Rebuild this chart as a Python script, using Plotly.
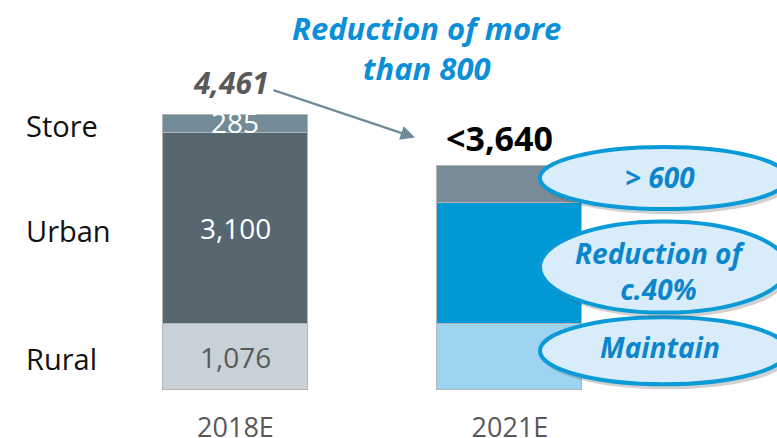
import plotly.graph_objects as go

# Headcount by channel, 2018 estimate vs 2021 target
years = ["2018E", "2021E"]
rural = [1076, 1076]
urban = [3100, 1964]
store = [285, 600]
total_labels = ["4,461", "<3,640"]
segment_names = ["Rural", "Urban", "Store"]
callouts = ["Maintain", "Reduction of<br>c.40%", "> 600"]
headline = "Reduction of more<br>than 800"

rural_colors = ["#c8d1d8", "#9dd4f2"]
urban_colors = ["#56676f", "#0099d6"]
store_colors = ["#748c97", "#778c97"]

FONT = "Open Sans"
BLUE_TEXT = "#0b86cc"
BAR_W = 0.528

fig = go.Figure()
for name, vals, cols in [("Rural", rural, rural_colors),
                         ("Urban", urban, urban_colors),
                         ("Store", store, store_colors)]:
    fig.add_trace(go.Bar(
        x=years, y=vals, name=name, width=BAR_W,
        marker=dict(color=cols, line=dict(color="#b4b4b4", width=1.5)),
        hoverinfo="skip",
    ))

totals = [r + u + s for r, u, s in zip(rural, urban, store)]
mids = [
    [r / 2 for r in rural],
    [r + u / 2 for r, u in zip(rural, urban)],
    [r + u + s / 2 for r, u, s in zip(rural, urban, store)],
]

annotations = []

# segment names on the left, aligned with the 2018 bar
for name, m in zip(segment_names, mids):
    annotations.append(dict(
        x=24 / 777, xref="paper", xanchor="left", y=m[0], yref="y", yshift=-2,
        text=name, showarrow=False,
        font=dict(family=FONT, size=29, color="#111111"),
    ))

# values inside the 2018 bar
inside = [(rural[0], "#595959", mids[0][0]),
          (urban[0], "white", mids[1][0]),
          (store[0], "white", mids[2][0] + 2 / 0.06165)]
for v, col, y in inside:
    annotations.append(dict(
        x=years[0], y=y, text=f"{v:,}", showarrow=False,
        font=dict(family=FONT, size=28, color=col),
    ))

# totals above the bars
annotations.append(dict(
    x=years[0], y=totals[0], yshift=32, xshift=-4, text=total_labels[0],
    showarrow=False,
    font=dict(family=FONT, size=30, color="#595959", weight="bold", style="italic"),
))
annotations.append(dict(
    x=years[1], y=totals[1], yshift=28, xshift=-10, text=total_labels[1],
    showarrow=False,
    font=dict(family=FONT, size=34, color="black", weight="bold"),
))

# arrow from the old total towards the new one
annotations.append(dict(
    x=years[1], y=totals[1], xshift=-95, yshift=28, text="",
    showarrow=True, ax=-143, ay=-48, axref="pixel", ayref="pixel",
    arrowhead=2, arrowsize=1.3, arrowwidth=2.2, arrowcolor="#6e8b9b",
    standoff=0, startstandoff=0,
))

# headline
annotations.append(dict(
    x=426 / 777, xref="paper", xanchor="center",
    y=(390 - 48) / 390, yref="paper", yanchor="middle",
    text=headline, showarrow=False,
    font=dict(family=FONT, size=31, color="#0a8fd8", weight="bold", style="italic"),
))

# callout ellipses next to the 2021 bar
shapes = []
ellipse_specs = [  # (segment mid, centre offset px, height px, text offset px)
    (mids[0][1], 6, 67, 10),
    (mids[1][1], -4, 91, -8),
    (mids[2][1], 6, 62, 7),
]
for (ym, off, h, toff), txt in zip(ellipse_specs, callouts):
    common = dict(type="circle", xref="x", yref="y",
                  xsizemode="pixel", ysizemode="pixel",
                  xanchor=years[1], yanchor=ym)
    shapes.append(dict(**common, x0=30 + 3, x1=278 + 3,
                       y0=off - h / 2 - 5, y1=off + h / 2 - 5,
                       fillcolor="rgba(90,90,90,0.28)", line=dict(width=0)))
    shapes.append(dict(**common, x0=30, x1=278,
                       y0=off - h / 2, y1=off + h / 2,
                       fillcolor="#d8edf9", line=dict(color="#0a9ad7", width=4)))
    annotations.append(dict(
        x=years[1], y=ym, xshift=150, yshift=toff, text=txt, showarrow=False,
        font=dict(family=FONT, size=28, color=BLUE_TEXT, weight="bold", style="italic"),
    ))

fig.update_layout(
    width=777, height=438,
    margin=dict(l=0, r=0, t=0, b=48),
    barmode="stack", bargap=0,
    showlegend=False,
    paper_bgcolor="white", plot_bgcolor="white",
    xaxis=dict(type="category", range=[-0.858, 1.973], showgrid=False,
               zeroline=False, showline=False, ticks="", automargin=False,
               ticklabelstandoff=19,
               tickfont=dict(family=FONT, size=27, color="#595959")),
    yaxis=dict(range=[0, 390 / 0.06165], visible=False, automargin=False),
    shapes=shapes,
    annotations=annotations,
)

fig.write_html("out.html")
